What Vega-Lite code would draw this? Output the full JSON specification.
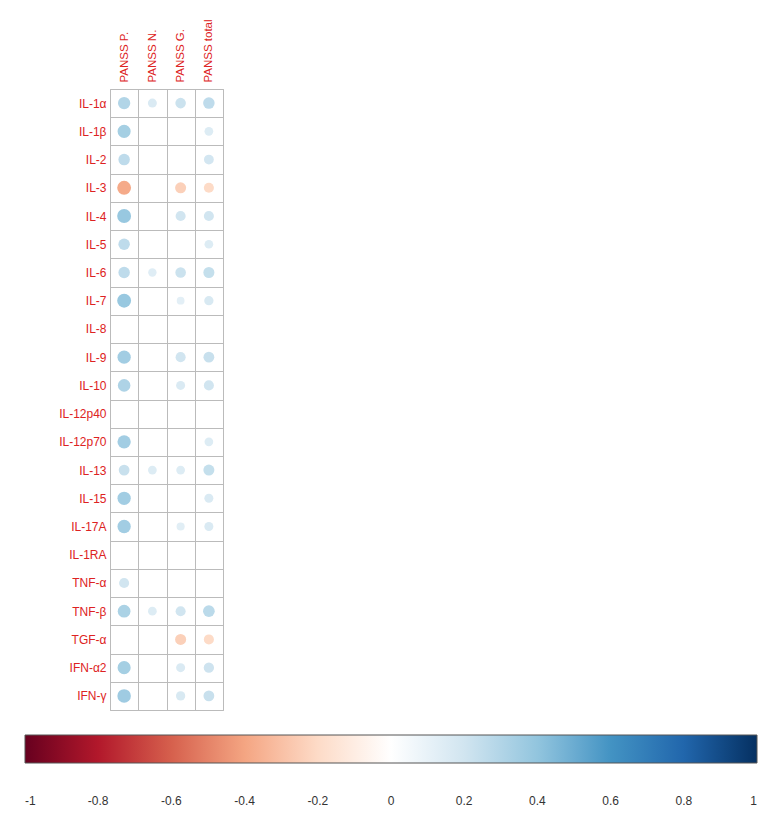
{
  "$schema": "https://vega.github.io/schema/vega-lite/v6.json",
  "autosize": {"type": "none"},
  "padding": {"left": 110, "top": 89, "right": 555, "bottom": 123},
  "width": 113,
  "height": 621,
  "background": "white",
  "config": {"view": {"stroke": "#bbbbbb", "strokeWidth": 1}},
  "data": {"values": [
    {"cytokine": "IL-1α", "scale": "PANSS P.", "r": 0.30, "absr": 0.30},
    {"cytokine": "IL-1α", "scale": "PANSS N.", "r": 0.16, "absr": 0.16},
    {"cytokine": "IL-1α", "scale": "PANSS G.", "r": 0.22, "absr": 0.22},
    {"cytokine": "IL-1α", "scale": "PANSS total", "r": 0.26, "absr": 0.26},
    {"cytokine": "IL-1β", "scale": "PANSS P.", "r": 0.34, "absr": 0.34},
    {"cytokine": "IL-1β", "scale": "PANSS total", "r": 0.15, "absr": 0.15},
    {"cytokine": "IL-2", "scale": "PANSS P.", "r": 0.26, "absr": 0.26},
    {"cytokine": "IL-2", "scale": "PANSS total", "r": 0.19, "absr": 0.19},
    {"cytokine": "IL-3", "scale": "PANSS P.", "r": -0.38, "absr": 0.38},
    {"cytokine": "IL-3", "scale": "PANSS G.", "r": -0.24, "absr": 0.24},
    {"cytokine": "IL-3", "scale": "PANSS total", "r": -0.20, "absr": 0.20},
    {"cytokine": "IL-4", "scale": "PANSS P.", "r": 0.38, "absr": 0.38},
    {"cytokine": "IL-4", "scale": "PANSS G.", "r": 0.20, "absr": 0.20},
    {"cytokine": "IL-4", "scale": "PANSS total", "r": 0.20, "absr": 0.20},
    {"cytokine": "IL-5", "scale": "PANSS P.", "r": 0.26, "absr": 0.26},
    {"cytokine": "IL-5", "scale": "PANSS total", "r": 0.15, "absr": 0.15},
    {"cytokine": "IL-6", "scale": "PANSS P.", "r": 0.26, "absr": 0.26},
    {"cytokine": "IL-6", "scale": "PANSS N.", "r": 0.14, "absr": 0.14},
    {"cytokine": "IL-6", "scale": "PANSS G.", "r": 0.22, "absr": 0.22},
    {"cytokine": "IL-6", "scale": "PANSS total", "r": 0.24, "absr": 0.24},
    {"cytokine": "IL-7", "scale": "PANSS P.", "r": 0.38, "absr": 0.38},
    {"cytokine": "IL-7", "scale": "PANSS G.", "r": 0.12, "absr": 0.12},
    {"cytokine": "IL-7", "scale": "PANSS total", "r": 0.17, "absr": 0.17},
    {"cytokine": "IL-9", "scale": "PANSS P.", "r": 0.35, "absr": 0.35},
    {"cytokine": "IL-9", "scale": "PANSS G.", "r": 0.20, "absr": 0.20},
    {"cytokine": "IL-9", "scale": "PANSS total", "r": 0.23, "absr": 0.23},
    {"cytokine": "IL-10", "scale": "PANSS P.", "r": 0.31, "absr": 0.31},
    {"cytokine": "IL-10", "scale": "PANSS G.", "r": 0.16, "absr": 0.16},
    {"cytokine": "IL-10", "scale": "PANSS total", "r": 0.20, "absr": 0.20},
    {"cytokine": "IL-12p70", "scale": "PANSS P.", "r": 0.35, "absr": 0.35},
    {"cytokine": "IL-12p70", "scale": "PANSS total", "r": 0.15, "absr": 0.15},
    {"cytokine": "IL-13", "scale": "PANSS P.", "r": 0.23, "absr": 0.23},
    {"cytokine": "IL-13", "scale": "PANSS N.", "r": 0.15, "absr": 0.15},
    {"cytokine": "IL-13", "scale": "PANSS G.", "r": 0.15, "absr": 0.15},
    {"cytokine": "IL-13", "scale": "PANSS total", "r": 0.24, "absr": 0.24},
    {"cytokine": "IL-15", "scale": "PANSS P.", "r": 0.35, "absr": 0.35},
    {"cytokine": "IL-15", "scale": "PANSS total", "r": 0.16, "absr": 0.16},
    {"cytokine": "IL-17A", "scale": "PANSS P.", "r": 0.35, "absr": 0.35},
    {"cytokine": "IL-17A", "scale": "PANSS G.", "r": 0.13, "absr": 0.13},
    {"cytokine": "IL-17A", "scale": "PANSS total", "r": 0.16, "absr": 0.16},
    {"cytokine": "TNF-α", "scale": "PANSS P.", "r": 0.20, "absr": 0.20},
    {"cytokine": "TNF-β", "scale": "PANSS P.", "r": 0.32, "absr": 0.32},
    {"cytokine": "TNF-β", "scale": "PANSS N.", "r": 0.15, "absr": 0.15},
    {"cytokine": "TNF-β", "scale": "PANSS G.", "r": 0.20, "absr": 0.20},
    {"cytokine": "TNF-β", "scale": "PANSS total", "r": 0.27, "absr": 0.27},
    {"cytokine": "TGF-α", "scale": "PANSS G.", "r": -0.24, "absr": 0.24},
    {"cytokine": "TGF-α", "scale": "PANSS total", "r": -0.20, "absr": 0.20},
    {"cytokine": "IFN-α2", "scale": "PANSS P.", "r": 0.34, "absr": 0.34},
    {"cytokine": "IFN-α2", "scale": "PANSS G.", "r": 0.16, "absr": 0.16},
    {"cytokine": "IFN-α2", "scale": "PANSS total", "r": 0.21, "absr": 0.21},
    {"cytokine": "IFN-γ", "scale": "PANSS P.", "r": 0.36, "absr": 0.36},
    {"cytokine": "IFN-γ", "scale": "PANSS G.", "r": 0.17, "absr": 0.17},
    {"cytokine": "IFN-γ", "scale": "PANSS total", "r": 0.23, "absr": 0.23}
  ]},
  "mark": {"type": "circle", "opacity": 1},
  "encoding": {
    "x": {
      "field": "scale", "type": "nominal",
      "scale": {"type": "band", "paddingInner": 0, "paddingOuter": 0,
        "domain": ["PANSS P.", "PANSS N.", "PANSS G.", "PANSS total"]},
      "axis": {"orient": "top", "title": null, "labelAngle": -90, "labelAlign": "left", "labelBaseline": "middle",
        "labelPadding": 7, "labelFontSize": 11.5, "labelFont": "Liberation Sans", "labelColor": "#dd2222",
        "ticks": false, "domain": false, "grid": true, "tickBand": "extent", "gridColor": "#bbbbbb", "gridOpacity": 1}
    },
    "y": {
      "field": "cytokine", "type": "nominal",
      "scale": {"type": "band", "paddingInner": 0, "paddingOuter": 0,
        "domain": ["IL-1α", "IL-1β", "IL-2", "IL-3", "IL-4", "IL-5", "IL-6", "IL-7", "IL-8", "IL-9", "IL-10", "IL-12p40", "IL-12p70", "IL-13", "IL-15", "IL-17A", "IL-1RA", "TNF-α", "TNF-β", "TGF-α", "IFN-α2", "IFN-γ"]},
      "axis": {"title": null, "labelPadding": 4, "labelFontSize": 12, "labelFont": "Liberation Sans", "labelColor": "#dd2222",
        "ticks": false, "domain": false, "grid": true, "tickBand": "extent", "gridColor": "#bbbbbb", "gridOpacity": 1}
    },
    "size": {
      "field": "absr", "type": "quantitative",
      "scale": {"type": "linear", "domain": [0, 1], "range": [0, 507], "zero": true},
      "legend": null
    },
    "color": {
      "field": "r", "type": "quantitative",
      "scale": {
        "domain": [-1, -0.8, -0.6, -0.4, -0.2, 0, 0.2, 0.4, 0.6, 0.8, 1],
        "range": ["#67001F", "#B2182B", "#D6604D", "#F4A582", "#FDDBC7", "#FFFFFF", "#D1E5F0", "#92C5DE", "#4393C3", "#2166AC", "#053061"],
        "interpolate": "rgb"
      },
      "legend": {
        "orient": "none", "direction": "horizontal", "legendX": -85, "legendY": 646,
        "gradientLength": 732, "gradientThickness": 28, "title": null,
        "values": [-1, -0.8, -0.6, -0.4, -0.2, 0, 0.2, 0.4, 0.6, 0.8, 1],
        "format": ".1~f",
        "labelExpr": "replace(datum.label, '−', '-')",
        "labelFontSize": 12, "labelFont": "Liberation Sans", "labelColor": "#333333", "labelOffset": 33,
        "labelAlign": "center", "labelOverlap": false,
        "gradientStrokeColor": "#555555", "gradientStrokeWidth": 1,
        "encode": {"labels": {
          "enter": {"align": {"value": "center"}},
          "update": {"align": {"value": "center"}, "dx": {"signal": "datum.perc <= 0.01 ? -6 : datum.perc >= 0.99 ? 3 : 0"}}
        }}
      }
    }
  }
}
